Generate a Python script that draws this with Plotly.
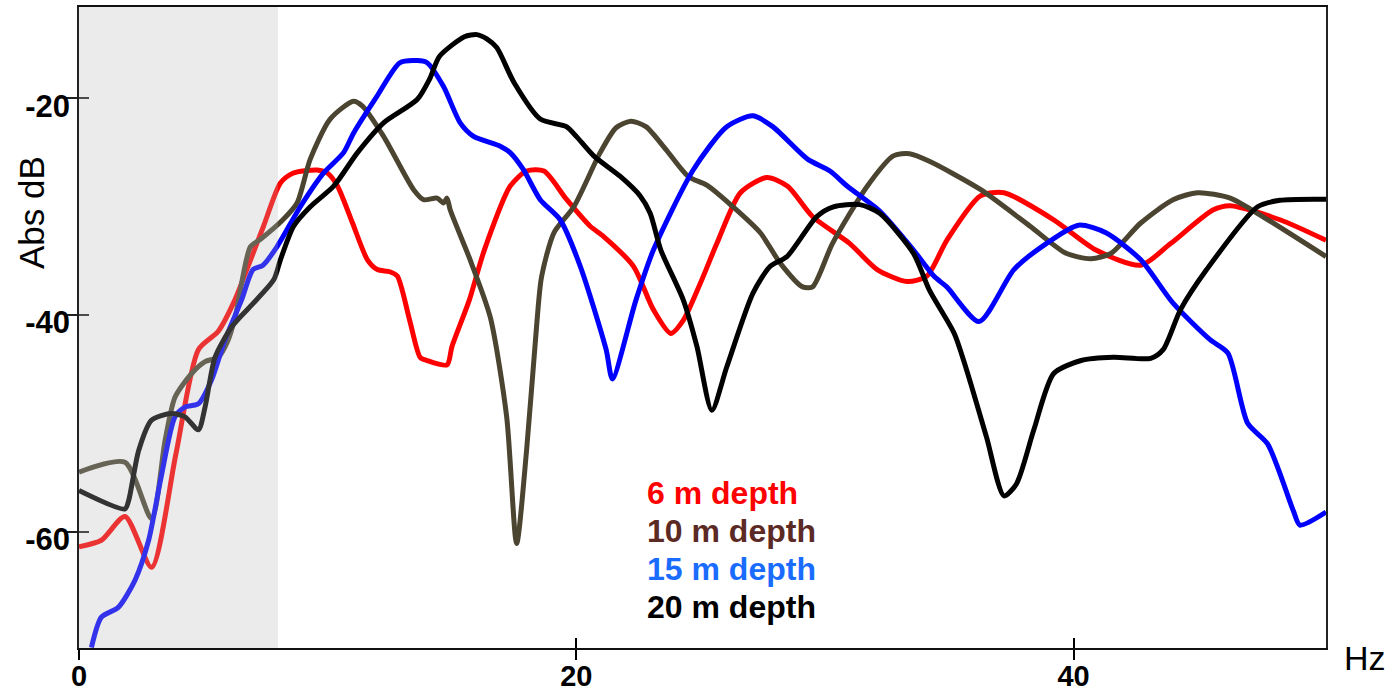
import plotly.graph_objects as go

# ---- data (Hz, dB) ----
red_hz = [0, 0.9, 1.85, 2.92, 3.9, 4.8, 5.6, 6.27, 6.9, 7.42, 8.1, 8.6, 9.57, 10.0, 10.4, 11.0, 11.6, 12.0, 12.5, 12.8,
          13.3, 13.72, 14.0, 14.8, 15.0, 15.7, 16.3, 17.34, 18.0, 18.7, 19.6, 20.56, 21.1, 22.3, 23.1, 23.8, 24.3, 25.0,
          25.65, 26.6, 27.66, 28.5, 29.5, 31.0, 32.1, 33.3, 34.1, 34.9, 36.25, 37.2, 39.2, 40.9, 42.7, 43.9, 45.6, 46.3,
          48.3, 50.15]
red_db = [-61.4, -60.8, -58.6, -63.3, -52.8, -43.2, -41.5, -38.6, -34.9, -31.8, -27.8, -26.9, -26.6, -26.9, -28.1, -31.5,
          -34.9, -35.8, -36.0, -36.4, -40.5, -43.9, -44.2, -44.6, -42.9, -38.6, -34.0, -28.1, -26.7, -26.7, -29.3, -31.8,
          -32.75, -35.5, -39.5, -41.7, -40.5, -37.0, -33.4, -28.7, -27.3, -28.1, -30.9, -33.4, -35.8, -36.9, -36.4, -33.1,
          -29.0, -28.7, -31.2, -34.0, -35.4, -33.4, -30.3, -29.9, -31.2, -33.1]

brown_hz = [0, 1.85, 2.92, 3.46, 3.86, 4.53, 5.07, 5.6, 6.0, 6.3, 6.89, 7.3, 8.2, 8.77, 9.3, 10.1, 11.04, 11.4, 12.25,
            13.45, 13.86, 14.4, 14.66, 14.8, 14.93, 15.73, 16.54, 17.2, 17.6, 18.0, 18.4, 18.6, 19.1, 19.9, 20.96, 21.6,
            22.2, 22.8, 23.6, 24.5, 25.25, 26.3, 27.4, 28.2, 29.1, 29.5, 30.3, 31.7, 32.75, 33.4, 34.2, 36.25, 38.25,
            39.7, 40.7, 41.5, 42.7, 44.0, 45.0, 46.3, 47.6, 50.15]
brown_db = [-54.5, -53.6, -58.8, -51.6, -47.6, -45.4, -44.3, -43.9, -42.3, -40.0, -33.7, -33.0, -31.2, -29.65, -25.6,
            -21.9, -20.25, -20.7, -23.5, -28.4, -29.35, -29.2, -29.65, -29.2, -30.3, -34.9, -40.2, -49.4, -61.1, -52.5,
            -41.1, -36.5, -32.4, -30.0, -25.0, -22.7, -22.1, -22.6, -24.7, -27.2, -28.0, -30.0, -32.4, -35.2, -37.4,
            -37.4, -33.4, -28.1, -25.3, -25.1, -25.8, -28.4, -31.8, -34.3, -34.8, -34.3, -31.5, -29.35, -28.7, -29.2,
            -30.9, -34.6]

blue_hz = [0.5, 0.9, 1.58, 2.25, 2.8, 3.3, 3.86, 4.26, 4.8, 5.33, 5.87, 6.54, 7.0, 7.4, 7.96, 8.9, 9.83, 10.64, 11.04,
           11.98, 12.9, 13.6, 14.0, 14.66, 15.33, 15.87, 16.94, 17.34, 17.88, 18.55, 19.35, 20.16, 21.2, 21.45, 22.4,
           23.1, 24.7, 26.05, 27.1, 27.9, 29.3, 30.2, 30.9, 32.2, 33.56, 34.4, 34.9, 36.2, 37.6, 38.9, 40.2, 41.3, 42.7,
           44.0, 45.5, 46.2, 47.0, 47.8, 48.84, 49.1, 50.15]
blue_db = [-70.7, -67.9, -67.0, -64.5, -60.8, -55.0, -49.4, -48.5, -48.2, -46.0, -42.3, -38.6, -35.8, -35.4, -33.7,
           -30.0, -26.9, -25.0, -23.2, -19.8, -16.7, -16.5, -16.7, -18.9, -22.25, -23.5, -24.4, -25.0, -26.6, -29.35,
           -31.2, -35.5, -43.2, -45.9, -38.6, -34.0, -26.6, -22.6, -21.6, -22.6, -25.6, -26.7, -28.1, -30.4, -34.0,
           -36.45, -37.4, -40.6, -35.8, -33.4, -31.7, -32.4, -34.9, -38.9, -42.3, -43.5, -50.0, -51.9, -58.1, -59.4,
           -58.2]

black_hz = [0, 1.85, 2.0, 2.4, 2.92, 3.72, 4.26, 4.8, 5.07, 5.47, 6.14, 6.89, 7.83, 8.1, 8.63, 9.3, 10.24, 11.2, 12.25,
            13.6, 14.1, 14.5, 15.5, 16.0, 16.4, 16.8, 17.5, 18.55, 19.6, 20.0, 20.7, 21.77, 22.57, 22.97, 23.4, 24.3,
            24.85, 25.45, 26.05, 27.1, 27.8, 28.47, 29.67, 30.34, 31.4, 32.2, 33.56, 34.2, 35.2, 35.7, 36.5, 37.2, 37.7,
            38.4, 39.2, 40.3, 41.6, 43.1, 43.6, 44.3, 45.35, 47.4, 48.3, 50.15]
black_db = [-56.2, -57.9, -57.1, -52.5, -49.7, -49.1, -49.4, -50.6, -48.5, -43.9, -41.1, -39.2, -36.75, -34.9, -31.8,
            -30.0, -28.1, -25.0, -22.25, -20.1, -18.2, -16.1, -14.3, -14.1, -14.5, -15.3, -18.55, -21.9, -22.6, -23.5,
            -25.3, -27.2, -29.0, -30.6, -34.0, -38.6, -42.9, -48.8, -44.8, -38.0, -35.5, -34.6, -30.9, -30.0, -29.8,
            -30.6, -34.3, -37.7, -41.7, -45.1, -51.3, -56.7, -55.6, -50.6, -45.4, -44.2, -43.9, -44.0, -43.2, -39.5,
            -35.8, -30.0, -29.4, -29.3]

series_names = ["6 m depth", "10 m depth", "15 m depth", "20 m depth"]
line_colors = ["#ff0000", "#4a4430", "#0000ff", "#000000"]
label_colors = ["#ff0000", "#5c2a24", "#1a6cff", "#000000"]

x_ticks = [0, 20, 40]
x_ticktext = ["0", "20", "40"]
y_ticks = [-60, -40, -20]
y_ticktext = ["-60", "-40", "-20"]

x_range = [0, 50.15]
y_range = [-70.75, -11.55]
label_offset_db = 0.7          # tick labels sit slightly below their ticks in the reference
y_label_range = [y_range[0] + label_offset_db, y_range[1] + label_offset_db]
shade_end_hz = 8

FONT = "Liberation Sans, Arial, sans-serif"

fig = go.Figure()
for xs, ys, c, n in zip([red_hz, brown_hz, blue_hz, black_hz], [red_db, brown_db, blue_db, black_db],
                        line_colors, series_names):
    fig.add_trace(go.Scatter(x=xs, y=ys, mode="lines", name=n,
                             line=dict(color=c, width=5, shape="spline", smoothing=0.7),
                             showlegend=False, hoverinfo="skip"))

# dummy traces so the helper axes (crossing ticks, shifted labels) get drawn
fig.add_trace(go.Scatter(x=[None], y=[None], xaxis="x2", yaxis="y2", showlegend=False, hoverinfo="skip"))
fig.add_trace(go.Scatter(x=[None], y=[None], xaxis="x", yaxis="y3", showlegend=False, hoverinfo="skip"))

# gray shaded low-frequency band (drawn above lines, semi transparent)
fig.add_shape(type="rect", xref="x", yref="paper", x0=0, x1=shade_end_hz, y0=0, y1=1,
              fillcolor="rgba(183,183,183,0.28)", line=dict(width=0), layer="above")

# legend text
legend_y = [0.2424, 0.1831, 0.1238, 0.0645]
for name, col, yy in zip(series_names, label_colors, legend_y):
    fig.add_annotation(x=22.75, y=yy, xref="x", yref="paper", text=name, showarrow=False,
                       xanchor="left", yanchor="middle",
                       font=dict(family=FONT, size=32, color=col, weight="bold"))

fig.add_annotation(x=-0.0386, y=0.68, xref="paper", yref="paper", text="Abs dB", textangle=-90,
                   showarrow=False, xanchor="center", yanchor="middle",
                   font=dict(family=FONT, size=35, color="black"))
fig.add_annotation(x=1.0495, y=-0.016, xref="paper", yref="paper", text="Hz",
                   showarrow=False, xanchor="right", yanchor="middle",
                   font=dict(family=FONT, size=34, color="black"))

axis_common = dict(showgrid=False, zeroline=False, automargin=False)
fig.update_layout(
    width=1394, height=698,
    margin=dict(l=79, r=68, t=7, b=50),
    paper_bgcolor="white", plot_bgcolor="white",
    xaxis=dict(range=x_range, tickvals=x_ticks, ticktext=x_ticktext, ticks="outside", ticklen=10,
               tickwidth=2, tickcolor="black", showline=True, linecolor="#111", linewidth=2, mirror=True,
               ticklabelstandoff=-9,
               tickfont=dict(family=FONT, size=29, color="black", weight="bold"), **axis_common),
    yaxis=dict(range=y_range, tickvals=y_ticks, ticks="outside", ticklen=11, showticklabels=False,
               tickwidth=2, tickcolor="#222", showline=True, linecolor="#222", linewidth=2, mirror=True,
               **axis_common),
    xaxis2=dict(range=x_range, overlaying="x", anchor="y", side="bottom", tickvals=x_ticks, ticks="inside",
                ticklen=10, tickwidth=2, tickcolor="black", showticklabels=False, showline=False, **axis_common),
    yaxis2=dict(range=y_range, overlaying="y", anchor="x", side="left", tickvals=y_ticks, ticks="inside",
                ticklen=10, tickwidth=2, tickcolor="#222", showticklabels=False, showline=False, **axis_common),
    yaxis3=dict(range=y_label_range, overlaying="y", anchor="x", side="left", tickvals=y_ticks,
                ticktext=y_ticktext, ticks="", showline=False, ticklabelstandoff=8,
                tickfont=dict(family=FONT, size=31, color="black", weight="bold"), **axis_common),
)

# remove the browser's default 8px page margin so the 1394x698 figure fills the window exactly
fig.write_html("out.html", config=dict(displayModeBar=False, staticPlot=True),
               post_script="document.body.style.margin='0';document.body.style.overflow='hidden';")
